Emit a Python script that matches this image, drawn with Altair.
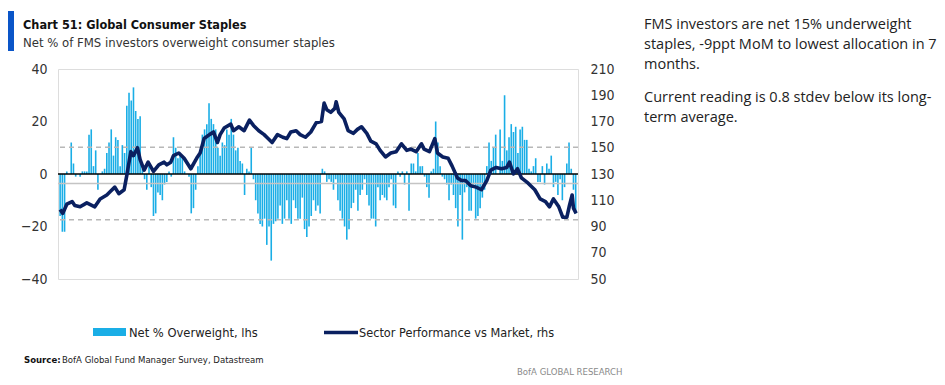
import altair as alt
import pandas as pd

# ---------------- data ----------------
years = list(range(2006, 2026))

# Net % of FMS investors overweight consumer staples (monthly, lhs)
ow_2006 = [-16, -22, -22, 1, 0, 12, 4, -1, 0, -1, 1, 1]
ow_2007 = [1, 15, 17, 3, 9, -6, 0, 1, 2, 8, 12, 17]
ow_2008 = [7, 14, 13, 3, 11, 8, 26, 31, 28, 33, 24, 21]
ow_2009 = [22, 2, -2, -6, 3, -5, -16, -15, -7, -8, -10, -4]
ow_2010 = [-3, 1, -1, 14, 10, 6, 8, 7, 1, 0, -1, -15]
ow_2011 = [-13, -6, 3, 8, 15, 17, 19, 27, 21, 19, 17, 10]
ow_2012 = [7, 12, 11, 17, 15, 21, 15, 9, 10, 5, 4, -8]
ow_2013 = [2, 1, 10, -2, -10, -15, -19, -20, -17, -27, -20, -33]
ow_2014 = [-19, -18, -17, -12, -19, -17, -10, -17, -19, -10, -13, -17]
ow_2015 = [-17, -9, -21, -24, -20, -16, -10, -14, -12, -15, 2, 1]
ow_2016 = [-3, -2, -3, -6, -2, -10, -14, -17, -20, -25, -21, -13]
ow_2017 = [-11, -6, -14, -8, -6, -2, -8, -12, -17, -17, -20, -5]
ow_2018 = [-10, -8, -9, -10, -5, -2, -12, -13, 1, -1, 1, -4]
ow_2019 = [1, -14, 4, 4, 1, 8, 3, 3, -1, -5, -9, 1]
ow_2020 = [2, 20, 12, 3, -1, -2, -4, -10, -4, -8, -13, -20]
ow_2021 = [-8, -25, -7, -5, -14, -14, -4, -17, -16, -13, -9, -6]
ow_2022 = [3, 12, 5, 10, 15, 0, 17, 5, 30, 9, 14, 19]
ow_2023 = [16, 18, 8, 17, 18, 13, 13, 2, 1, 3, 6, -3]
ow_2024 = [-3, 3, -4, 4, 2, 7, -5, -3, -8, -2, -10, -5]
ow_2025 = [4, 12, 2, -6, -15]

net_overweight = (ow_2006 + ow_2007 + ow_2008 + ow_2009 + ow_2010 + ow_2011 + ow_2012
                  + ow_2013 + ow_2014 + ow_2015 + ow_2016 + ow_2017 + ow_2018 + ow_2019
                  + ow_2020 + ow_2021 + ow_2022 + ow_2023 + ow_2024 + ow_2025)
month_pos = [2006 + i / 12 for i in range(len(net_overweight))]

# Sector performance vs market (rhs), read at the picture's points
perf_t = [2006.0, 2006.1, 2006.25, 2006.45, 2006.55, 2006.75, 2007.0, 2007.3, 2007.5, 2007.75,
          2007.9, 2008.05, 2008.2, 2008.4, 2008.5, 2008.65, 2008.75, 2008.9, 2009.0, 2009.15,
          2009.3, 2009.5, 2009.7, 2009.9, 2010.0, 2010.15, 2010.25, 2010.45, 2010.65, 2010.9,
          2011.15, 2011.25, 2011.4, 2011.6, 2011.75, 2011.9, 2012.0, 2012.15, 2012.4, 2012.5,
          2012.7, 2012.9, 2013.1, 2013.25, 2013.45, 2013.65, 2013.75, 2013.95, 2014.15, 2014.35,
          2014.5, 2014.65, 2014.85, 2015.0, 2015.2, 2015.4, 2015.6, 2015.8, 2015.9, 2016.0,
          2016.15, 2016.3, 2016.35, 2016.45, 2016.65, 2016.8, 2017.0, 2017.15, 2017.3, 2017.5,
          2017.65, 2017.85, 2018.0, 2018.2, 2018.4, 2018.6, 2018.8, 2019.0, 2019.15, 2019.35,
          2019.55, 2019.65, 2019.85, 2020.05, 2020.15, 2020.35, 2020.55, 2020.7, 2020.9, 2021.05,
          2021.2, 2021.4, 2021.6, 2021.8, 2022.0, 2022.15, 2022.35, 2022.55, 2022.75, 2022.85,
          2023.0, 2023.15, 2023.3, 2023.55, 2023.8, 2024.0, 2024.2, 2024.35, 2024.5, 2024.7,
          2024.85, 2025.0, 2025.1, 2025.2, 2025.25, 2025.35]
perf_v = [103, 100, 107, 109, 106, 105, 108, 105, 111, 114,
          117, 120, 115, 118, 129, 147, 144, 150, 141, 133,
          139, 132, 137, 139, 137, 139, 144, 146, 142, 134,
          143, 146, 157, 160, 162, 154, 160, 165, 168, 163,
          166, 163, 171, 167, 163, 160, 158, 154, 160, 158,
          157, 162, 163, 160, 158, 162, 169, 170, 184, 179,
          177, 180, 185, 177, 172, 163, 161, 164, 166, 161,
          155, 153, 148, 143, 146, 147, 153, 148, 149, 147,
          153, 149, 147, 157, 146, 143, 142, 136, 127, 125,
          125, 121, 120, 118, 125, 133, 135, 134, 135, 139,
          130, 134, 127, 123, 118, 111, 109, 105, 111, 105,
          97, 97, 106, 114, 104, 100]

lt_average = -3.6
plus_1sd = 10.2
minus_1sd = -17.4

left_ticks = list(range(-40, 41, 10))
right_ticks = list(range(50, 211, 20))

title_text = "Chart 51: Global Consumer Staples"
subtitle_text = "Net % of FMS investors overweight consumer staples"
comment_lines = ["FMS investors are net 15% underweight",
                 "staples, -9ppt MoM to lowest allocation in 7",
                 "months.",
                 "Current reading is 0.8 stdev below its long-",
                 "term average."]
legend_bar = "Net % Overweight, lhs"
legend_line = "Sector Performance vs Market, rhs"
source_bold = "Source:"
source_rest = "BofA Global Fund Manager Survey, Datastream"
footer = "BofA GLOBAL RESEARCH"

# ---------------- chart ----------------
CYAN = "#1aaee6"
NAVY = "#0a2060"
NARROW = "Liberation Sans Narrow, DejaVu Sans Condensed, Roboto, Liberation Sans, sans-serif"
W, H = 520, 210

bars_df = pd.DataFrame({"t": month_pos, "v": net_overweight})
line_df = pd.DataFrame({"t": perf_t, "v": perf_v})
one = pd.DataFrame({"k": [0]})

xs = alt.Scale(domain=[2005.92, 2025.42], nice=False, zero=False)
yl = alt.Scale(domain=[-40, 40], nice=False, zero=False)
yr = alt.Scale(domain=[50, 210], nice=False, zero=False)

x_axis = alt.Axis(values=years, labelExpr="slice(format(datum.value, 'd'), 2)",
                  domain=False, ticks=False, grid=False, title=None,
                  labelFont=NARROW, labelFontSize=14, labelColor="#333333",
                  labelPadding=10, labelFlush=False)
left_axis = alt.Axis(orient="left", values=left_ticks, domain=False, ticks=False,
                     grid=False, title=None, labelFont=NARROW, labelFontSize=14,
                     labelColor="#333333", labelPadding=11)
right_axis = alt.Axis(orient="right", values=right_ticks, domain=False, ticks=False,
                      grid=False, title=None, labelFont=NARROW, labelFontSize=14,
                      labelColor="#333333", labelPadding=12)

bars = alt.Chart(bars_df).mark_rule(color=CYAN, strokeWidth=1.6).encode(
    x=alt.X("t:Q", scale=xs, axis=x_axis),
    y=alt.Y("v:Q", scale=yl, axis=left_axis),
    y2=alt.datum(0),
)


def hrule(level, color, dash=None, width=1.5):
    kw = dict(color=color, strokeWidth=width)
    if dash:
        kw["strokeDash"] = dash
    return alt.Chart(one).mark_rule(**kw).encode(y=alt.datum(level))


avg_rule = hrule(lt_average, "#c4c4c4")
up_rule = hrule(plus_1sd, "#b8b8b8", [5, 4])
dn_rule = hrule(minus_1sd, "#b8b8b8", [5, 4])
zero_rule = hrule(0, "#000000", None, 1.6)


def txt(x, y, s, size, font=NARROW, weight="normal", color="#222222",
        baseline="alphabetic", align="left"):
    return alt.Chart(one).mark_text(font=font, fontSize=size, fontWeight=weight, color=color,
                                    baseline=baseline, align=align).encode(
        x=alt.value(x), y=alt.value(y), text=alt.value(s))


title_bar = alt.Chart(one).mark_rect(color="#0a55c8").encode(
    x=alt.value(-51), x2=alt.value(-44), y=alt.value(-58), y2=alt.value(-18))

annotations = [
    title_bar,
    txt(-35, -40.5, title_text, 12.6, weight="bold", color="#111111"),
    txt(-35, -22, subtitle_text, 13, color="#333333"),
    txt(586, -40, comment_lines[0], 14.5, font="Open Sans"),
    txt(586, -20, comment_lines[1], 14.5, font="Open Sans"),
    txt(586, 0, comment_lines[2], 14.5, font="Open Sans"),
    txt(586, 33, comment_lines[3], 14.5, font="Open Sans"),
    txt(586, 53, comment_lines[4], 14.5, font="Open Sans"),
    alt.Chart(one).mark_rect(color=CYAN).encode(
        x=alt.value(35), x2=alt.value(68), y=alt.value(259), y2=alt.value(267)),
    txt(71, 263.5, legend_bar, 12.8, baseline="middle"),
    alt.Chart(one).mark_rule(color=NAVY, strokeWidth=3.5).encode(
        x=alt.value(266), x2=alt.value(300), y=alt.value(263.5)),
    txt(301, 263.5, legend_line, 12.6, baseline="middle"),
    txt(-34, 291, source_bold, 9.5, weight="bold", color="#111111", baseline="middle"),
    txt(4, 291, source_rest, 9.5, color="#222222", baseline="middle"),
    txt(459, 303, footer, 9.5, color="#8a8a8a", baseline="middle"),
]

left = alt.layer(bars, avg_rule, up_rule, dn_rule, zero_rule, *annotations)

line = alt.Chart(line_df).mark_line(color=NAVY, strokeWidth=3.6, strokeJoin="round").encode(
    x=alt.X("t:Q", scale=xs, axis=None),
    y=alt.Y("v:Q", scale=yr, axis=right_axis),
)

chart = alt.layer(left, line).resolve_scale(y="independent").properties(
    width=W, height=H,
    padding={"left": 50, "top": 61, "right": 359, "bottom": 98},
    autosize=alt.AutoSizeParams(type="none"),
).configure_view(stroke=None).configure(background="white")

chart.save("out.html", embed_options={"renderer": "svg", "actions": False})
